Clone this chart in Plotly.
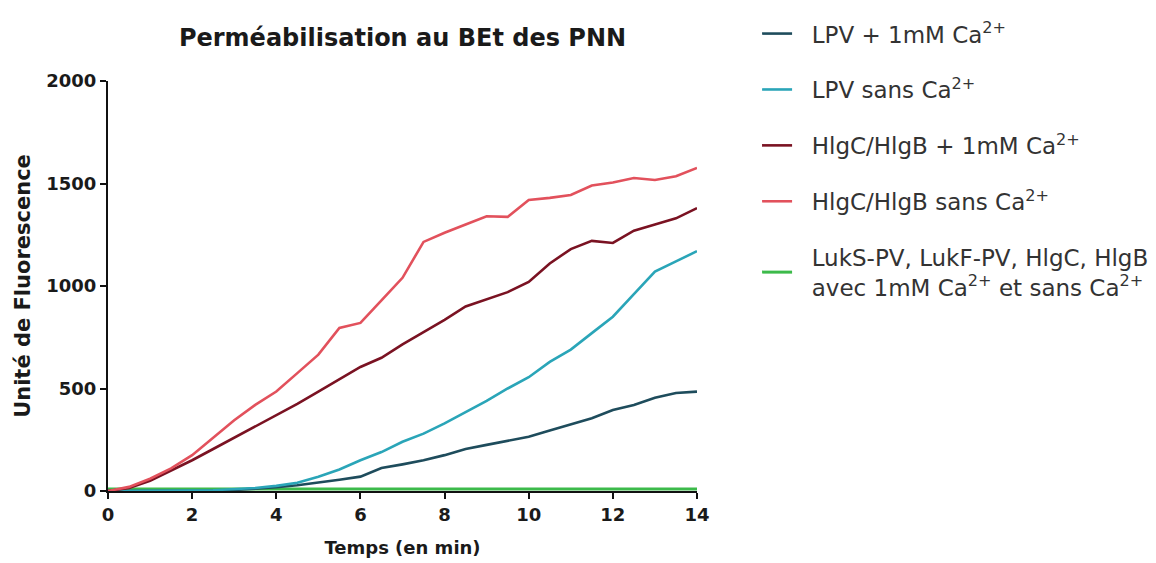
import plotly.graph_objects as go

# Time points (minutes)
temps = [0, 0.5, 1, 1.5, 2, 2.5, 3, 3.5, 4, 4.5, 5, 5.5, 6, 6.5, 7,
         7.5, 8, 8.5, 9, 9.5, 10, 10.5, 11, 11.5, 12, 12.5, 13, 13.5, 14]

# Fluorescence readings per condition
lpv_ca = [0, 0, 0, 0, 1, 2, 5, 10, 18, 28, 40, 55, 70, 112, 130,
          150, 175, 205, 225, 245, 265, 295, 325, 355, 395, 420, 455, 478, 485]
lpv_sans = [0, 0, 0, 0, 2, 4, 8, 15, 25, 40, 70, 105, 150, 190, 240,
            280, 330, 385, 440, 500, 555, 630, 690, 770, 850, 960, 1070, 1120, 1170]
hlg_ca = [0, 15, 50, 100, 150, 205, 260, 315, 370, 425, 485, 545, 605, 650, 715,
          775, 835, 900, 935, 970, 1020, 1110, 1180, 1220, 1210, 1270, 1300, 1330, 1380]
hlg_sans = [0, 20, 60, 110, 175, 260, 345, 420, 485, 575, 665, 795, 820, 930, 1040,
            1215, 1260, 1300, 1340, 1337, 1420, 1430, 1444, 1490, 1505, 1527, 1517, 1535, 1576]
controles = [10] * len(temps)

# legend labels (a small non-breaking indent separates text from the line sample)
pad = "\u00a0\u00a0"
names = [
    pad + "LPV + 1mM Ca<sup>2+</sup>",
    pad + "LPV sans Ca<sup>2+</sup>",
    pad + "HlgC/HlgB + 1mM Ca<sup>2+</sup>",
    pad + "HlgC/HlgB sans Ca<sup>2+</sup>",
    pad + "LukS-PV, LukF-PV, HlgC, HlgB<br>" + pad
    + "avec 1mM Ca<sup>2+</sup> et sans Ca<sup>2+</sup>",
]
colors = ["#1e4c5c", "#2aa5b8", "#7a1222", "#e2515c", "#3cba4a"]
series = [lpv_ca, lpv_sans, hlg_ca, hlg_sans, controles]

fig = go.Figure()

# controls drawn first so the other curves sit on top of them
order = [4, 0, 1, 2, 3]
for i in order:
    fig.add_trace(go.Scatter(
        x=temps, y=series[i], mode="lines", name=names[i],
        line=dict(color=colors[i], width=3 if i == 4 else 2.6),
        legendrank=i + 1, legendgroup=f"g{i}",
    ))

font_family = "DejaVu Sans, Verdana, sans-serif"
ink = "#1a1a1a"

fig.update_layout(
    width=1156, height=563,
    margin=dict(l=108, r=459, t=81, b=72, autoexpand=False),
    paper_bgcolor="white", plot_bgcolor="white",
    font=dict(family=font_family, color="#222222"),
    title=dict(
        text="Perméabilisation au BEt des PNN",
        x=0.5, xref="paper", y=1 - 38 / 563, yref="container",
        xanchor="center", yanchor="middle",
        font=dict(size=24, weight="bold", color=ink),
    ),
    legend=dict(
        x=1.102, y=1.168, xref="paper", yref="paper",
        xanchor="left", yanchor="top",
        font=dict(size=23, color="#333333"),
        tracegroupgap=23, itemwidth=30, maxheight=560,
        bgcolor="rgba(0,0,0,0)",
    ),
    showlegend=True,
)

fig.update_xaxes(
    range=[0, 14], tickvals=[0, 2, 4, 6, 8, 10, 12, 14],
    showgrid=False, zeroline=False,
    showline=True, linecolor="#111111", linewidth=2,
    ticks="outside", ticklen=6, tickwidth=2, tickcolor="#111111",
    tickfont=dict(size=18, weight="bold", color=ink),
    title=dict(text="Temps (en min)", standoff=18,
               font=dict(size=18, weight="bold", color=ink)),
)
fig.update_yaxes(
    range=[0, 2000], tickvals=[0, 500, 1000, 1500, 2000],
    showgrid=False, zeroline=False,
    showline=True, linecolor="#111111", linewidth=2,
    ticks="outside", ticklen=6, tickwidth=2, tickcolor="#111111",
    tickfont=dict(size=18, weight="bold", color=ink),
    title=dict(text="Unité de Fluorescence", standoff=10,
               font=dict(size=21, weight="bold", color=ink)),
)

fig.write_html("out.html")
